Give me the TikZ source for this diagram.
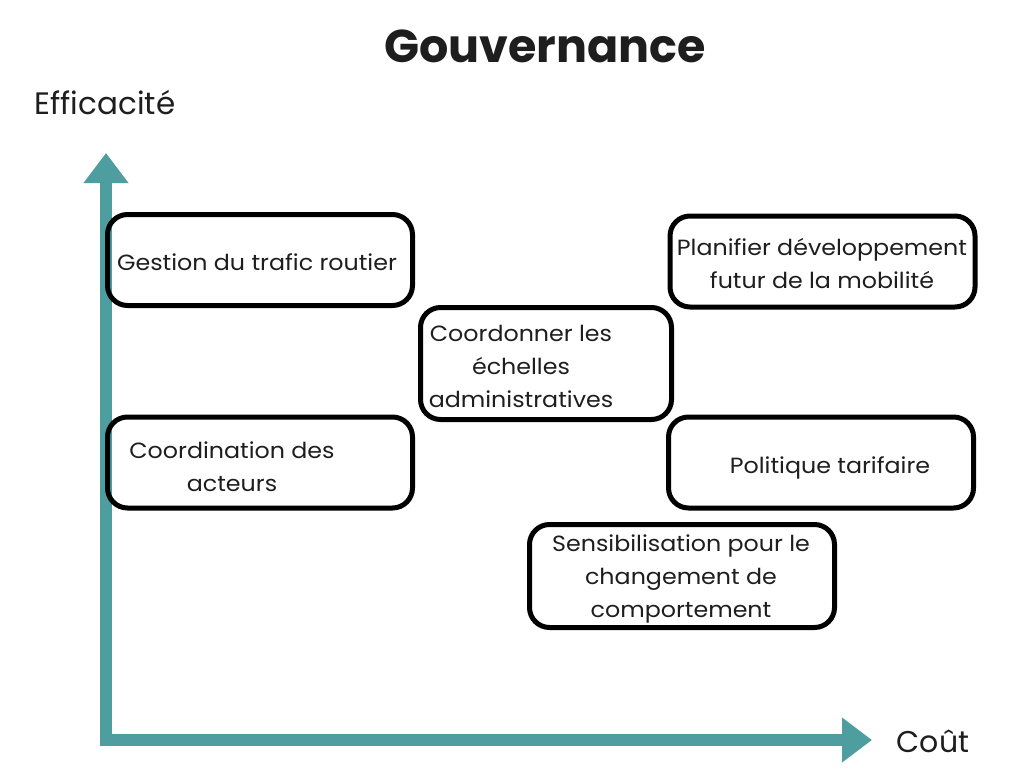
\documentclass[tikz,border=0pt]{standalone}
\usepackage{fontspec}
\setmainfont{Poppins}
\newfontfamily\boxfont[FakeStretch=1.08]{Poppins}
\usetikzlibrary{arrows.meta}
\definecolor{axisteal}{RGB}{78,158,160}
\definecolor{textdark}{RGB}{30,30,30}
\tikzset{
  x=1pt, y=-1pt,
  box/.style={draw=black, line width=5pt, rounded corners=20pt, minimum width=305pt, minimum height=91pt, inner sep=0pt},
  lbl/.style={text=textdark, font=\boxfont\fontsize{22}{33}\selectfont, align=center, inner sep=0pt},
  axislbl/.style={text=textdark, font=\fontsize{31}{34}\selectfont, inner sep=0pt},
  axisline/.style={draw=axisteal, line width=12pt, line join=miter,
    {Triangle[width=43pt,length=30pt]}-{Triangle[width=43pt,length=30pt]}},
}
\begin{document}
\begin{tikzpicture}
\useasboundingbox (0,0) rectangle (1024,768);
\fill[white] (0,0) rectangle (1024,768);
% axes
\coordinate (ytip) at (106,153);
\coordinate (corner) at (106,740);
\coordinate (xtip) at (872,740);
\draw[axisline] (ytip) -- (corner) -- (xtip);
% titles
\node[text=textdark, font=\bfseries\fontsize{46}{50}\selectfont, inner sep=0pt] (title) at (545,46) {Gouvernance};
\node[axislbl] (ylab) at (105,103) {Efficacité};
\node[axislbl, font=\fontsize{30}{34}\selectfont] (xlab) at (933,741) {Coût};
% boxes
\node[box] (b1) at (260,260) {};
\node[lbl] (t1) at (257,262) {Gestion du trafic routier};
\node[box] (b2) at (822.5,261.5) {};
\node[lbl] (t2) at (822,263) {Planifier développement\\futur de la mobilité};
\node[box, minimum width=251pt, minimum height=112pt] (b3) at (546,363.5) {};
\node[lbl] (t3) at (521,366) {Coordonner les\\échelles\\administratives};
\node[box] (b4) at (260,462.5) {};
\node[lbl] (t4) at (232,467) {Coordination des\\acteurs};
\node[box] (b5) at (821,462.5) {};
\node[lbl] (t5) at (830,468) {Politique tarifaire};
\node[box, minimum height=103pt] (b6) at (682,576) {};
\node[lbl] (t6) at (681,579) {Sensibilisation pour le\\changement de\\comportement};
\end{tikzpicture}
\end{document}
